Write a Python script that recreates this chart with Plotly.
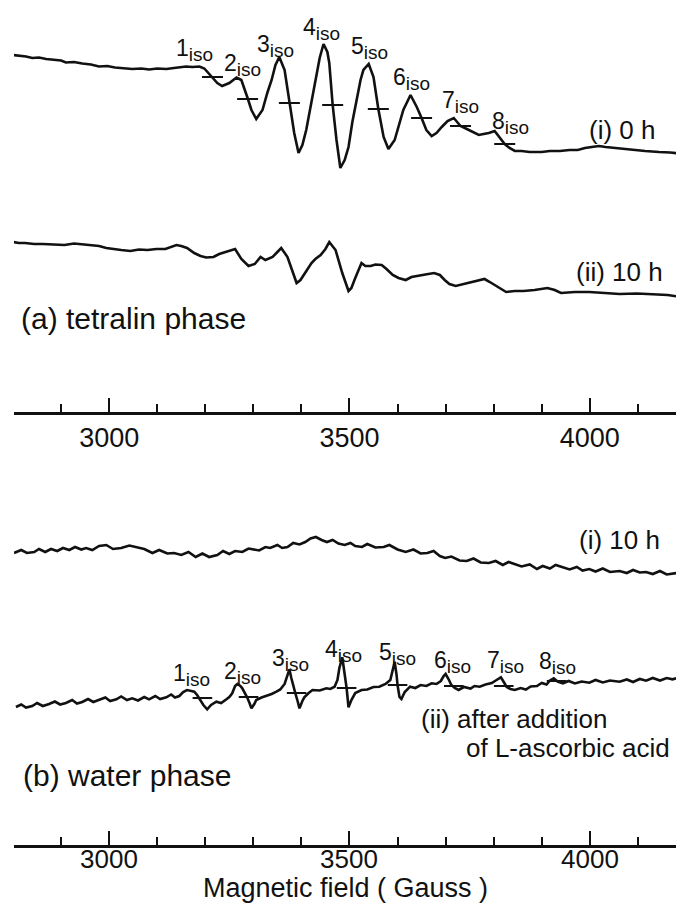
import plotly.graph_objects as go

# ---------------- data (field in Gauss, intensity in arbitrary units) ----------------
# (a) tetralin phase, (i) 0 h
field_a0 = [2800, 2812, 2827, 2840, 2854, 2869, 2885, 2900, 2910, 2927, 2944, 2962, 2979, 2996, 3012, 3031,
            3048, 3067, 3083, 3100, 3119, 3135, 3150, 3160, 3173, 3188, 3198, 3204, 3215, 3225, 3235, 3250,
            3265, 3275, 3288, 3296, 3306, 3319, 3329, 3338, 3346, 3354, 3365, 3375, 3385, 3394, 3402, 3410,
            3419, 3427, 3438, 3446, 3454, 3458, 3465, 3473, 3481, 3490, 3498, 3506, 3515, 3523, 3529, 3540,
            3550, 3560, 3571, 3581, 3594, 3604, 3612, 3627, 3640, 3650, 3660, 3671, 3681, 3692, 3704, 3717,
            3723, 3731, 3740, 3748, 3758, 3769, 3779, 3790, 3802, 3812, 3823, 3833, 3844, 3858, 3875, 3900,
            3917, 3938, 3958, 3975, 3990, 4004, 4019, 4033, 4052, 4073, 4094, 4115, 4144, 4167, 4196]
inten_a0 = [0, -0.5, -1.5, -3, -2.5, -4, -5, -5.5, -7.5, -7, -8.5, -9.5, -11.5, -11, -12.5, -13,
            -14, -13.5, -14.5, -13.5, -14, -13, -12.5, -11.5, -12, -11.5, -13.5, -16.5, -22, -28, -31, -28,
            -22.5, -25, -43, -55, -64, -55, -38, -25, -10, -2, -15, -48, -78, -98, -90, -75,
            -53, -32, -3, 11, 3, -8, -50, -85, -113, -105, -92, -67, -45, -25, -15, -9,
            -22, -54, -82, -94, -85, -69, -55, -40, -52, -63, -75, -81, -78, -72, -66, -63,
            -66, -71, -73, -75, -78, -80, -79, -78, -76, -82, -89, -93, -96, -96, -97, -97,
            -96, -96, -95, -95, -93, -92, -91, -92, -93, -94, -95, -96, -97, -97.5, -99]
lines_a0_field = [3215, 3288, 3375, 3465, 3560, 3650, 3731, 3823]
lines_a0_inten = [-22, -44, -48, -50, -54, -63, -71, -89]

# (a) tetralin phase, (ii) 10 h
field_a10 = [2800, 2812, 2825, 2844, 2862, 2885, 2907, 2927, 2952, 2979, 2994, 3007, 3025, 3044, 3062, 3080,
             3098, 3117, 3129, 3140, 3150, 3162, 3177, 3190, 3202, 3217, 3229, 3244, 3262, 3275, 3290, 3303,
             3315, 3325, 3340, 3350, 3358, 3371, 3379, 3390, 3398, 3408, 3421, 3429, 3440, 3450, 3458, 3471,
             3485, 3498, 3504, 3512, 3525, 3533, 3544, 3554, 3567, 3577, 3590, 3602, 3617, 3629, 3644, 3658,
             3676, 3688, 3698, 3708, 3721, 3737, 3753, 3767, 3781, 3792, 3803, 3815, 3826, 3844, 3862, 3885,
             3912, 3927, 3940, 3969, 3999, 4031, 4062, 4098, 4135, 4162, 4190]
inten_a10 = [0, -1, -1, -2, -2, -2.5, -3, -1.5, -3, -4, -6, -7, -8, -9, -7.5, -8,
             -7, -7, -5, -3, -4, -6, -11, -14, -15.5, -15, -12, -10, -7, -17, -24, -22,
             -15, -18, -15, -10, -6, -15, -26, -41, -38, -31, -21, -17, -13, -7, 0, -8,
             -31, -49, -46, -36, -21, -24, -24, -22.5, -23, -27, -33, -36, -38, -35, -34, -32.5,
             -31, -33, -38, -42, -44, -42, -40, -38, -37, -40, -43, -47, -50, -49, -49, -48,
             -46, -48, -51, -50, -50, -51, -52, -51.5, -52, -53, -55]

# (b) water phase, (i) 10 h
field_b10 = [2802, 2817, 2829, 2844, 2854, 2867, 2879, 2892, 2904, 2917, 2929, 2942, 2952, 2965, 2979, 2994,
             3008, 3025, 3042, 3057, 3073, 3090, 3104, 3121, 3135, 3150, 3165, 3180, 3194, 3208, 3225, 3237,
             3250, 3262, 3277, 3290, 3298, 3312, 3325, 3335, 3350, 3360, 3371, 3383, 3396, 3408, 3419, 3430,
             3442, 3453, 3465, 3477, 3490, 3502, 3512, 3526, 3537, 3554, 3571, 3583, 3600, 3617, 3633, 3648,
             3662, 3675, 3688, 3699, 3712, 3729, 3744, 3758, 3773, 3790, 3804, 3819, 3831, 3844, 3858, 3875,
             3890, 3902, 3917, 3929, 3944, 3958, 3973, 3985, 3999, 4012, 4027, 4042, 4062, 4077, 4090, 4104,
             4117, 4131, 4146, 4160, 4181, 4194]
inten_b10 = [0, 3, 0, 1, 4, 1, 4, 2, 5, 3, 6, 3.5, 5, 3, 7, 8,
             4, 5, 7.5, 6, 4, 0, 3, -0.5, 0, -2, 1, -4, -0.5, -4, -2, 2,
             -1, 2, 1, 4.5, 4, 2.5, 6, 5, 8, 5, 6, 10, 8.5, 11, 14.5, 16,
             13, 11, 13, 9.5, 8, 10, 7, 6, 9, 5.5, 6, 8, 3.5, 1, 3.5, -0.5,
             0, 2, -3, -5, -3.5, -7.5, -8, -5.5, -9.5, -10, -8, -12, -9, -11, -13.5, -11.5,
             -16, -13, -15.5, -12, -14, -16.5, -14, -17.5, -16, -18.5, -15.5, -19, -18, -20, -17, -19.5,
             -19, -21, -18, -21.5, -20, -22]

# (b) water phase, (ii) after addition of L-ascorbic acid
field_bA = [2806, 2817, 2827, 2840, 2850, 2862, 2875, 2887, 2898, 2910, 2923, 2933, 2944, 2956, 2967, 2979,
            2992, 3002, 3015, 3025, 3037, 3048, 3060, 3073, 3083, 3096, 3106, 3119, 3129, 3137, 3146, 3154,
            3162, 3171, 3177, 3183, 3190, 3196, 3204, 3212, 3223, 3233, 3244, 3250, 3256, 3262, 3267, 3273,
            3277, 3283, 3287, 3292, 3296, 3302, 3306, 3317, 3327, 3338, 3348, 3356, 3365, 3371, 3375, 3379,
            3383, 3387, 3392, 3396, 3402, 3406, 3415, 3423, 3438, 3452, 3460, 3469, 3475, 3479, 3485, 3490,
            3494, 3498, 3504, 3512, 3525, 3537, 3550, 3562, 3575, 3585, 3590, 3594, 3598, 3600, 3604, 3608,
            3615, 3626, 3637, 3648, 3660, 3671, 3681, 3690, 3696, 3700, 3706, 3712, 3719, 3727, 3738, 3752,
            3760, 3771, 3783, 3796, 3806, 3815, 3821, 3827, 3835, 3844, 3856, 3867, 3877, 3890, 3900, 3910,
            3917, 3925, 3933, 3944, 3956, 3969, 3983, 3999, 4012, 4027, 4042, 4062, 4077, 4090, 4104, 4117,
            4131, 4146, 4160, 4172, 4185, 4194]
inten_bA = [0, 2.5, -0.5, 1, 4, 1, 3, 5.5, 2.5, 4, 7, 3.5, 5, 8, 5, 7,
            9.5, 6, 7.7, 10.5, 7, 8.7, 6.5, 10, 7.7, 11, 8, 9.7, 12.5, 9.5, 11, 15,
            17, 16, 15.3, 12, 7, 2, -2.3, 2, 5.3, 4, 7.7, 10, 13.7, 21, 23, 21,
            18.7, 14, 9.7, 4, -1.3, 3, 7, 9.5, 11, 13, 15.3, 17.5, 23, 32, 37.7, 29,
            20, 14.3, 6, -1.3, 6, 9.7, 14, 17, 16.5, 18.7, 18, 20.3, 27, 39, 49.7, 35,
            19, -0.3, 7, 14, 17, 17.5, 20, 20.3, 23, 27, 37, 45.3, 32, 22, 10, 8,
            15, 20.3, 19, 22, 21, 23.7, 23, 26, 31, 33, 28, 22, 19, 17, 20, 18.5,
            21, 20.3, 22.5, 24, 27, 29.7, 25, 20, 18, 17, 19, 17.5, 20.5, 21, 24, 22.5,
            26.5, 28.7, 25.5, 23.7, 26, 23.5, 25.5, 24.3, 27, 24.5, 26.5, 25.3, 27.5, 25, 28, 26.3,
            29, 26.5, 29, 27.7, 29.5, 27]
lines_bA_field = [3194, 3290, 3390, 3494, 3600, 3717, 3821, 3931]
lines_bA_inten = [9, 10, 14, 19, 22, 21, 21, 26]

line_names = ["1", "2", "3", "4", "5", "6", "7", "8"]
x_ticks = [3000, 3500, 4000]

# ---------------- layout (the page body adds an 8 px margin around the figure) ----------------
PAGE_PAD = 8
W, H = 684 - PAGE_PAD, 904 - PAGE_PAD
AX_TOP = 412 - PAGE_PAD        # top axis line, figure pixels from top
AX_BOT = 845 - PAGE_PAD        # bottom axis line
PANEL_B_TOP = 470 - PAGE_PAD

OFF_A0, OFF_A10 = 357, 170     # vertical offsets (panel units) of the spectra
OFF_B10, OFF_BA = 292, 138
FONT = "Liberation Sans, Arial, sans-serif"
LC = "#111111"

fig = go.Figure()

def add_spec(fx, fy, off, xa, ya):
    fig.add_trace(go.Scatter(x=fx, y=[v + off for v in fy], mode="lines",
                             line=dict(color=LC, width=2.6),
                             xaxis=xa, yaxis=ya, showlegend=False, hoverinfo="skip"))

add_spec(field_a0, inten_a0, OFF_A0, "x", "y")
add_spec(field_a10, inten_a10, OFF_A10, "x", "y")
add_spec(field_b10, inten_b10, OFF_B10, "x2", "y2")
add_spec(field_bA, inten_bA, OFF_BA, "x2", "y2")

fig.add_trace(go.Scatter(x=lines_a0_field, y=[v + OFF_A0 for v in lines_a0_inten], mode="markers",
                         marker=dict(symbol="line-ew", size=15, line=dict(width=2, color=LC)),
                         xaxis="x", yaxis="y", showlegend=False, hoverinfo="skip"))
fig.add_trace(go.Scatter(x=lines_bA_field, y=[v + OFF_BA for v in lines_bA_inten], mode="markers",
                         marker=dict(symbol="line-ew", size=14, line=dict(width=2, color=LC)),
                         xaxis="x2", yaxis="y2", showlegend=False, hoverinfo="skip"))

xcommon = dict(range=[2802, 4196], showline=True, linewidth=2.5, linecolor=LC,
               ticks="inside", ticklen=14, tickwidth=2, tickcolor=LC,
               tickmode="array", tickvals=x_ticks, ticktext=[str(v) for v in x_ticks],
               minor=dict(ticks="inside", ticklen=8, tickwidth=2, tickcolor=LC, dtick=100, tick0=3000),
               showgrid=False, zeroline=False, fixedrange=True, automargin=False)

fig.update_layout(
    width=W, height=H, margin=dict(l=14 - PAGE_PAD, r=0, t=0, b=0, pad=0),
    paper_bgcolor="white", plot_bgcolor="white",
    xaxis=dict(anchor="y", tickfont=dict(family=FONT, size=27, color=LC), **xcommon),
    xaxis2=dict(anchor="y2", showticklabels=False, **xcommon),
    yaxis=dict(domain=[(H - AX_TOP) / H, 1], range=[0, AX_TOP], visible=False),
    yaxis2=dict(domain=[(H - AX_BOT) / H, (H - PANEL_B_TOP) / H],
                range=[0, AX_BOT - PANEL_B_TOP], visible=False),
)

def sub_label(n):
    return n + "<sub><span style='font-size:19px'>iso</span></sub>"

top_lab_x = [3135, 3235, 3304, 3400, 3498, 3587, 3688, 3792]
top_lab_y = [362, 347, 366, 383, 364, 333, 310, 289]
bot_lab_x = [3129, 3235, 3335, 3444, 3558, 3671, 3781, 3890]
bot_lab_y = [170, 172, 185, 194, 191, 183, 183, 182]

ann = []
for n, gx, gy in zip(line_names, top_lab_x, top_lab_y):
    ann.append(dict(x=gx, y=gy, xref="x", yref="y", text=sub_label(n), xanchor="left", yanchor="middle",
                    showarrow=False, font=dict(family=FONT, size=23, color=LC)))
for n, gx, gy in zip(line_names, bot_lab_x, bot_lab_y):
    ann.append(dict(x=gx, y=gy, xref="x2", yref="y2", text=sub_label(n), xanchor="left", yanchor="middle",
                    showarrow=False, font=dict(family=FONT, size=23, color=LC)))

# tick labels of the lower axis, set tight under the axis line as in the original
for tv in x_ticks:
    ann.append(dict(x=tv, y=(H - (859 - PAGE_PAD)) / H, xref="x2", yref="paper", text=str(tv),
                    xanchor="center", yanchor="middle", showarrow=False,
                    font=dict(family=FONT, size=26, color=LC)))

def txt(x, y, s, xr, yr, anchor="center", size=26):
    ann.append(dict(x=x, y=y, xref=xr, yref=yr, text=s, xanchor=anchor, yanchor="middle",
                    showarrow=False, font=dict(family=FONT, size=size, color=LC)))

txt(4067, 282, "(i) 0 h", "x", "y")
txt(4062, 140, "(ii) 10 h", "x", "y")
txt(2812, 94, "(a) tetralin phase", "x", "y", anchor="left", size=30)
txt(4062, 305, "(i) 10 h", "x2", "y2")
txt(3644, 126, "(ii) after addition", "x2", "y2", anchor="left")
txt(4171, 97, "of L-ascorbic acid", "x2", "y2", anchor="right")
txt(2817, 70, "(b) water phase", "x2", "y2", anchor="left", size=30)
ann.append(dict(x=(342 - PAGE_PAD) / W, y=(H - (888 - PAGE_PAD)) / H, xref="paper", yref="paper",
                text="Magnetic field ( Gauss )", xanchor="center", yanchor="middle", showarrow=False,
                font=dict(family=FONT, size=27, color=LC)))

fig.update_layout(annotations=ann)
fig.write_html("out.html")
